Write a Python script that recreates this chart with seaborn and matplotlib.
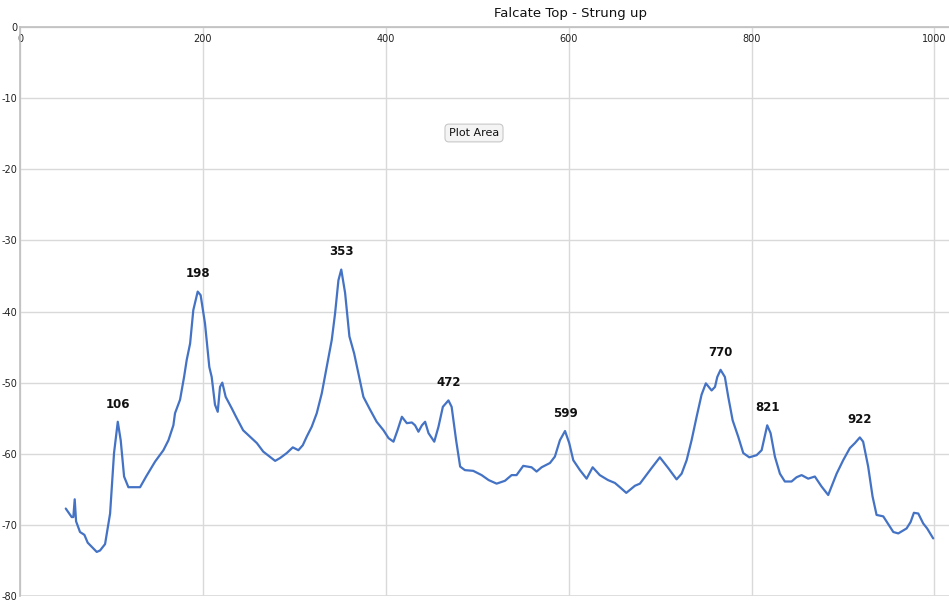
import numpy as np
import pandas as pd
import matplotlib
matplotlib.use("Agg")
import matplotlib.pyplot as plt
import seaborn as sns

# ==========================================
# Data
# ==========================================
freq = [50, 56.5, 58.3, 59.8, 61.3, 65.6, 70.4, 74, 83.9, 87.5, 93, 98.5, 102.8,
        106.9, 110.1, 113.8, 118.5, 131.3, 137.9, 147.7, 156.8, 162.3, 167.7, 169.5,
        175, 179.4, 182.3, 186, 189.5, 194.3, 197.5, 202.3, 207, 209.6, 213.2, 216.2,
        218.7, 221.2, 224.9, 231.5, 236.2, 244, 251.5, 259, 266, 275, 279, 284.4,
        291.7, 298.3, 304.4, 309.2, 313.5, 319, 324.5, 330, 335.4, 340.9, 344.5,
        348.2, 351.3, 355.5, 360.2, 365.4, 370, 375.5, 382.8, 390, 397.5, 403, 408.4,
        412.8, 417.6, 423, 428.5, 432, 435.7, 439.5, 443, 446.7, 453, 457.6, 462.4,
        468.5, 472, 476.9, 481.3, 486.5, 495.6, 504.8, 512.5, 521.2, 530.3, 537.6,
        543, 550.3, 559.4, 564.9, 570.4, 579.5, 584.9, 590.4, 596, 600.6, 605,
        612.3, 619.6, 626.2, 634, 643, 650.5, 656, 663, 672.4, 677.9, 690.7, 699.7,
        708.8, 718, 723.5, 729, 734.4, 739.9, 745.3, 750, 756.3, 760, 762.5, 766.1,
        770.8, 774.5, 779.3, 785.4, 790.9, 797.5, 805.5, 811, 817.1, 820.8, 825.5,
        831, 836.4, 843.7, 849.2, 854.7, 861.9, 869.2, 876.5, 883.8, 887.5, 893,
        900.2, 907.5, 913, 918.4, 922, 927.5, 932.3, 936.7, 944, 955, 960.4, 969.5,
        973.9, 977.5, 982.3, 987.7, 992, 998.6]
level = [-67.7, -68.9, -68.9, -66.4, -69.5, -71.0, -71.4, -72.5, -73.8, -73.6, -72.7,
         -68.4, -59.9, -55.5, -58.1, -63.2, -64.7, -64.7, -63.2, -61.1, -59.5, -58.1,
         -56.0, -54.3, -52.4, -49.2, -46.8, -44.5, -39.8, -37.2, -37.7, -41.7, -47.8,
         -49.2, -53.1, -54.1, -50.6, -50.0, -52.0, -53.6, -54.8, -56.7, -57.6, -58.5,
         -59.7, -60.6, -61.0, -60.6, -59.9, -59.1, -59.5, -58.8, -57.6, -56.2, -54.3,
         -51.5, -47.8, -44.0, -40.3, -35.6, -34.1, -37.4, -43.5, -45.9, -48.7, -52.0,
         -53.8, -55.5, -56.7, -57.8, -58.3, -56.7, -54.8, -55.7, -55.6, -56.0, -56.9,
         -56.0, -55.5, -57.1, -58.3, -56.2, -53.4, -52.5, -53.4, -58.1, -61.8, -62.3,
         -62.4, -63.0, -63.7, -64.2, -63.8, -63.0, -63.0, -61.7, -61.9, -62.5, -61.9,
         -61.3, -60.4, -58.1, -56.8, -58.5, -60.9, -62.3, -63.5, -61.9, -63.0, -63.7,
         -64.1, -64.7, -65.5, -64.5, -64.2, -62.0, -60.5, -62.0, -63.6, -62.8, -60.9,
         -58.1, -54.8, -51.7, -50.1, -51.1, -50.6, -49.2, -48.2, -49.2, -52.0, -55.3,
         -57.6, -59.9, -60.5, -60.2, -59.5, -56.0, -57.1, -60.4, -62.8, -63.9, -63.9,
         -63.3, -63.0, -63.5, -63.2, -64.6, -65.8, -64.6, -62.8, -60.9, -59.2, -58.5,
         -57.7, -58.3, -61.8, -66.0, -68.6, -68.8, -71.0, -71.2, -70.5, -69.6, -68.3,
         -68.4, -69.8, -70.5, -71.9]

peak_labels = ["106", "198", "353", "472", "599", "770", "821", "922"]

x_ticks = [0, 200, 400, 600, 800, 1000]
y_ticks = [0, -10, -20, -30, -40, -50, -60, -70, -80]

df = pd.DataFrame({"freq": freq, "level": level})

# ==========================================
# Plot
# ==========================================
sns.set_theme(style="whitegrid")
plt.rcParams["font.family"] = ["DejaVu Sans"]
plt.rcParams["axes.unicode_minus"] = False

fig = plt.figure(figsize=(9.49, 6.08), dpi=100)
ax = fig.add_axes([0.0211, 0.0197, 0.979, 0.9359])

sns.lineplot(data=df, x="freq", y="level", ax=ax, color="#4472C4",
             linewidth=1.6, sort=False)

ax.set_xlim(0, 1016)
ax.set_ylim(-80, 0)
ax.set_xticks(x_ticks)
ax.set_yticks(y_ticks)
ax.set_xlabel("")
ax.set_ylabel("")
ax.grid(True, color="#d9d9d9", linewidth=1.0)

for side in ["right", "bottom"]:
    ax.spines[side].set_visible(False)
for side in ["top", "left"]:
    ax.spines[side].set_visible(True)
    ax.spines[side].set_color("#bfbfbf")
    ax.spines[side].set_linewidth(1.2)
ax.axhline(-80, color="#d9d9d9", linewidth=1.2)

ax.tick_params(axis="x", top=True, labeltop=True, bottom=False, labelbottom=False,
               length=0, pad=-12, labelsize=7, labelcolor="#222222")
ax.tick_params(axis="y", length=0, pad=2, labelsize=7, labelcolor="#222222")

# peak labels: placed on the highest point of the curve near each labelled x
fx = np.array(freq)
lv = np.array(level)
for lab in peak_labels:
    target = float(lab) - 3
    mask = np.abs(fx - target) < 9
    i = np.where(mask)[0][np.argmax(lv[mask])]
    ax.annotate(lab, (fx[i], lv[i]), xytext=(0, 8), textcoords="offset points",
                ha="center", va="bottom", fontsize=8.5, fontweight="bold",
                color="#111111")

fig.text(570 / 949, 1 - 14 / 608, "Falcate Top - Strung up", ha="center",
         va="center", fontsize=9.5, color="#111111")

fig.text(474 / 949, 1 - 133 / 608, "Plot Area", ha="center", va="center",
         fontsize=8, color="#111111",
         bbox=dict(boxstyle="round,pad=0.35", facecolor="#f4f4f4",
                   edgecolor="#c8c8c8", linewidth=0.8))

fig.savefig("out.png", dpi=100)
